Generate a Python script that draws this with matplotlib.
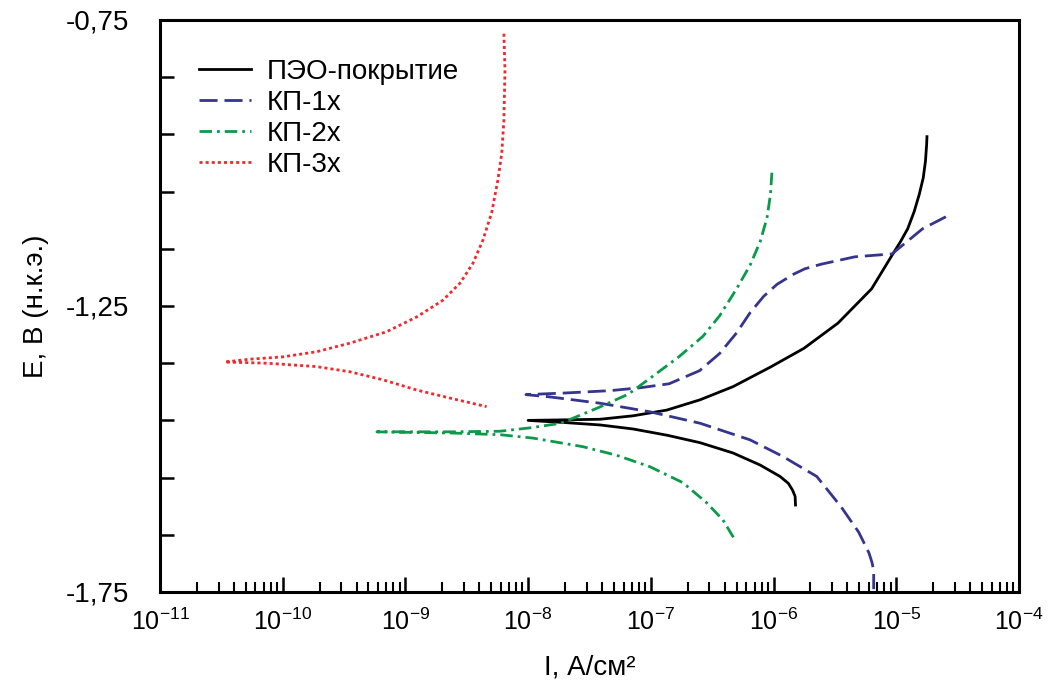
import numpy as np
import matplotlib
matplotlib.use("Agg")
from matplotlib import pyplot as plt
from matplotlib.ticker import FixedLocator, FuncFormatter, LogLocator

plt.rcParams['font.family'] = ['Liberation Sans', 'DejaVu Sans']

# ПЭО-покрытие: anodic branch (top -> Ecorr), then cathodic branch
peo_i = [1.78e-5, 1.77e-5, 1.73e-5, 1.66e-5, 1.54e-5, 1.40e-5, 1.24e-5, 1.08e-5, 9.2e-6,
         6.3e-6, 3.35e-6, 1.77e-6, 9.4e-7,
         4.68e-7, 2.52e-7, 1.35e-7, 7.16e-8, 3.86e-8, 2.06e-8, 1.0e-8,
         2.06e-8, 3.86e-8, 7.16e-8, 1.36e-7, 2.52e-7, 4.68e-7, 7.77e-7, 1.13e-6,
         1.32e-6, 1.43e-6, 1.50e-6, 1.51e-6]
peo_e = [-0.954, -0.967, -0.997, -1.026, -1.055, -1.085, -1.115, -1.138, -1.162,
         -1.220, -1.280, -1.324, -1.357,
         -1.391, -1.414, -1.432, -1.442, -1.448, -1.449, -1.450,
         -1.454, -1.458, -1.465, -1.476, -1.489, -1.507, -1.528, -1.548,
         -1.560, -1.572, -1.583, -1.598]

# КП-1х
kp1_i = [2.54e-5, 1.64e-5, 9.23e-6, 4.61e-6, 2.44e-6, 1.80e-6, 1.47e-6, 1.07e-6, 8.32e-7,
         6.43e-7, 5.0e-7, 3.64e-7, 2.50e-7, 1.41e-7, 8.17e-8, 4.65e-8, 2.06e-8, 9.6e-9,
         1.51e-8, 3.86e-8, 9.84e-8, 2.52e-7, 6.43e-7, 1.19e-6, 2.25e-6, 3.55e-6,
         4.93e-6, 5.46e-6, 6.0e-6, 6.34e-6, 6.55e-6, 6.55e-6]
kp1_e = [-1.094, -1.115, -1.159, -1.164, -1.177, -1.185, -1.194, -1.212, -1.233,
         -1.262, -1.297, -1.333, -1.363, -1.386, -1.393, -1.398, -1.402, -1.405,
         -1.409, -1.420, -1.435, -1.455, -1.484, -1.513, -1.548, -1.601,
         -1.645, -1.664, -1.682, -1.698, -1.712, -1.745]

# КП-2х
kp2_i = [9.7e-7, 9.44e-7, 8.85e-7, 7.77e-7, 6.43e-7, 5.0e-7, 3.64e-7, 2.66e-7, 1.69e-7,
         1.02e-7, 6.58e-8, 3.71e-8, 1.85e-8, 1.04e-8, 5.9e-9, 2.31e-9, 5.86e-10,
         2.31e-9, 5.9e-9, 1.10e-8, 2.80e-8, 5.27e-8, 9.84e-8, 1.83e-7, 2.85e-7,
         3.87e-7, 4.85e-7]
kp2_e = [-1.017, -1.055, -1.096, -1.138, -1.179, -1.220, -1.267, -1.303, -1.339,
         -1.374, -1.404, -1.428, -1.455, -1.463, -1.469, -1.470, -1.470,
         -1.472, -1.475, -1.481, -1.496, -1.511, -1.531, -1.559, -1.594,
         -1.624, -1.659]

# КП-3х
kp3_i = [6.35e-9, 6.48e-9, 6.35e-9, 6.1e-9, 5.67e-9, 5.05e-9, 4.28e-9, 3.56e-9, 2.79e-9,
         2.02e-9, 1.24e-9, 7.03e-10, 3.53e-10, 1.89e-10, 1.0e-10, 5.41e-11, 3.39e-11,
         7.41e-11, 1.89e-10, 3.53e-10, 6.56e-10, 1.24e-9, 2.31e-9, 4.59e-9]
kp3_e = [-0.774, -0.837, -0.925, -0.983, -1.030, -1.087, -1.135, -1.175, -1.210,
         -1.240, -1.269, -1.295, -1.315, -1.330, -1.339, -1.343, -1.348,
         -1.350, -1.356, -1.365, -1.379, -1.397, -1.411, -1.426]

labels = ["ПЭО-покрытие", "КП-1х", "КП-2х", "КП-3х"]
y_major = [-1.75, -1.25, -0.75]
y_minor = [-1.65, -1.55, -1.45, -1.35, -1.15, -1.05, -0.95, -0.85]

fig = plt.figure(figsize=(10.51, 6.89), dpi=100)
ax = fig.add_axes([0.1522, 0.1408, 0.8173, 0.8302])

ax.plot(peo_i, peo_e, color="black", lw=2.0, label=labels[0])
ax.plot(kp1_i, kp1_e, color="#35348e", lw=2.0, dashes=(6.5, 2.5), label=labels[1])
ax.plot(kp2_i, kp2_e, color="#0a9a4a", lw=2.0, dashes=(4.5, 1.8, 1.0, 1.8), label=labels[2])
ax.plot(kp3_i, kp3_e, color="#ee2a2e", lw=2.0, dashes=(1.1, 1.1), label=labels[3])

ax.set_xscale("log")
ax.set_xlim(1e-11, 1e-4)
ax.set_ylim(-1.75, -0.75)

ax.xaxis.set_major_locator(LogLocator(base=10, numticks=20))
ax.xaxis.set_minor_locator(LogLocator(base=10, subs=np.arange(2, 10), numticks=20))
ax.yaxis.set_major_locator(FixedLocator(y_major))
ax.yaxis.set_minor_locator(FixedLocator(y_minor))
ax.yaxis.set_major_formatter(FuncFormatter(lambda v, p: f"{v:.2f}".replace(".", ",")))

ax.tick_params(axis="x", which="major", direction="in", length=11, width=1.8,
               labelsize=18, pad=12, top=False)
ax.tick_params(axis="x", which="minor", direction="in", length=7.5, width=1.5, top=False)
ax.tick_params(axis="y", which="both", direction="in", length=10, width=1.8,
               labelsize=20, pad=22, right=False)
for s in ax.spines.values():
    s.set_linewidth(2.2)

ax.set_xlabel("I, А/см²", fontsize=20, labelpad=14)
ax.set_ylabel("E, В (н.к.э.)", fontsize=20, labelpad=12)

ax.legend(loc="upper left", frameon=False, fontsize=20, handlelength=1.87,
          handletextpad=0.58, labelspacing=0.18, borderaxespad=0.0,
          bbox_to_anchor=(0.032, 0.952))

fig.savefig("out.png", dpi=100)
